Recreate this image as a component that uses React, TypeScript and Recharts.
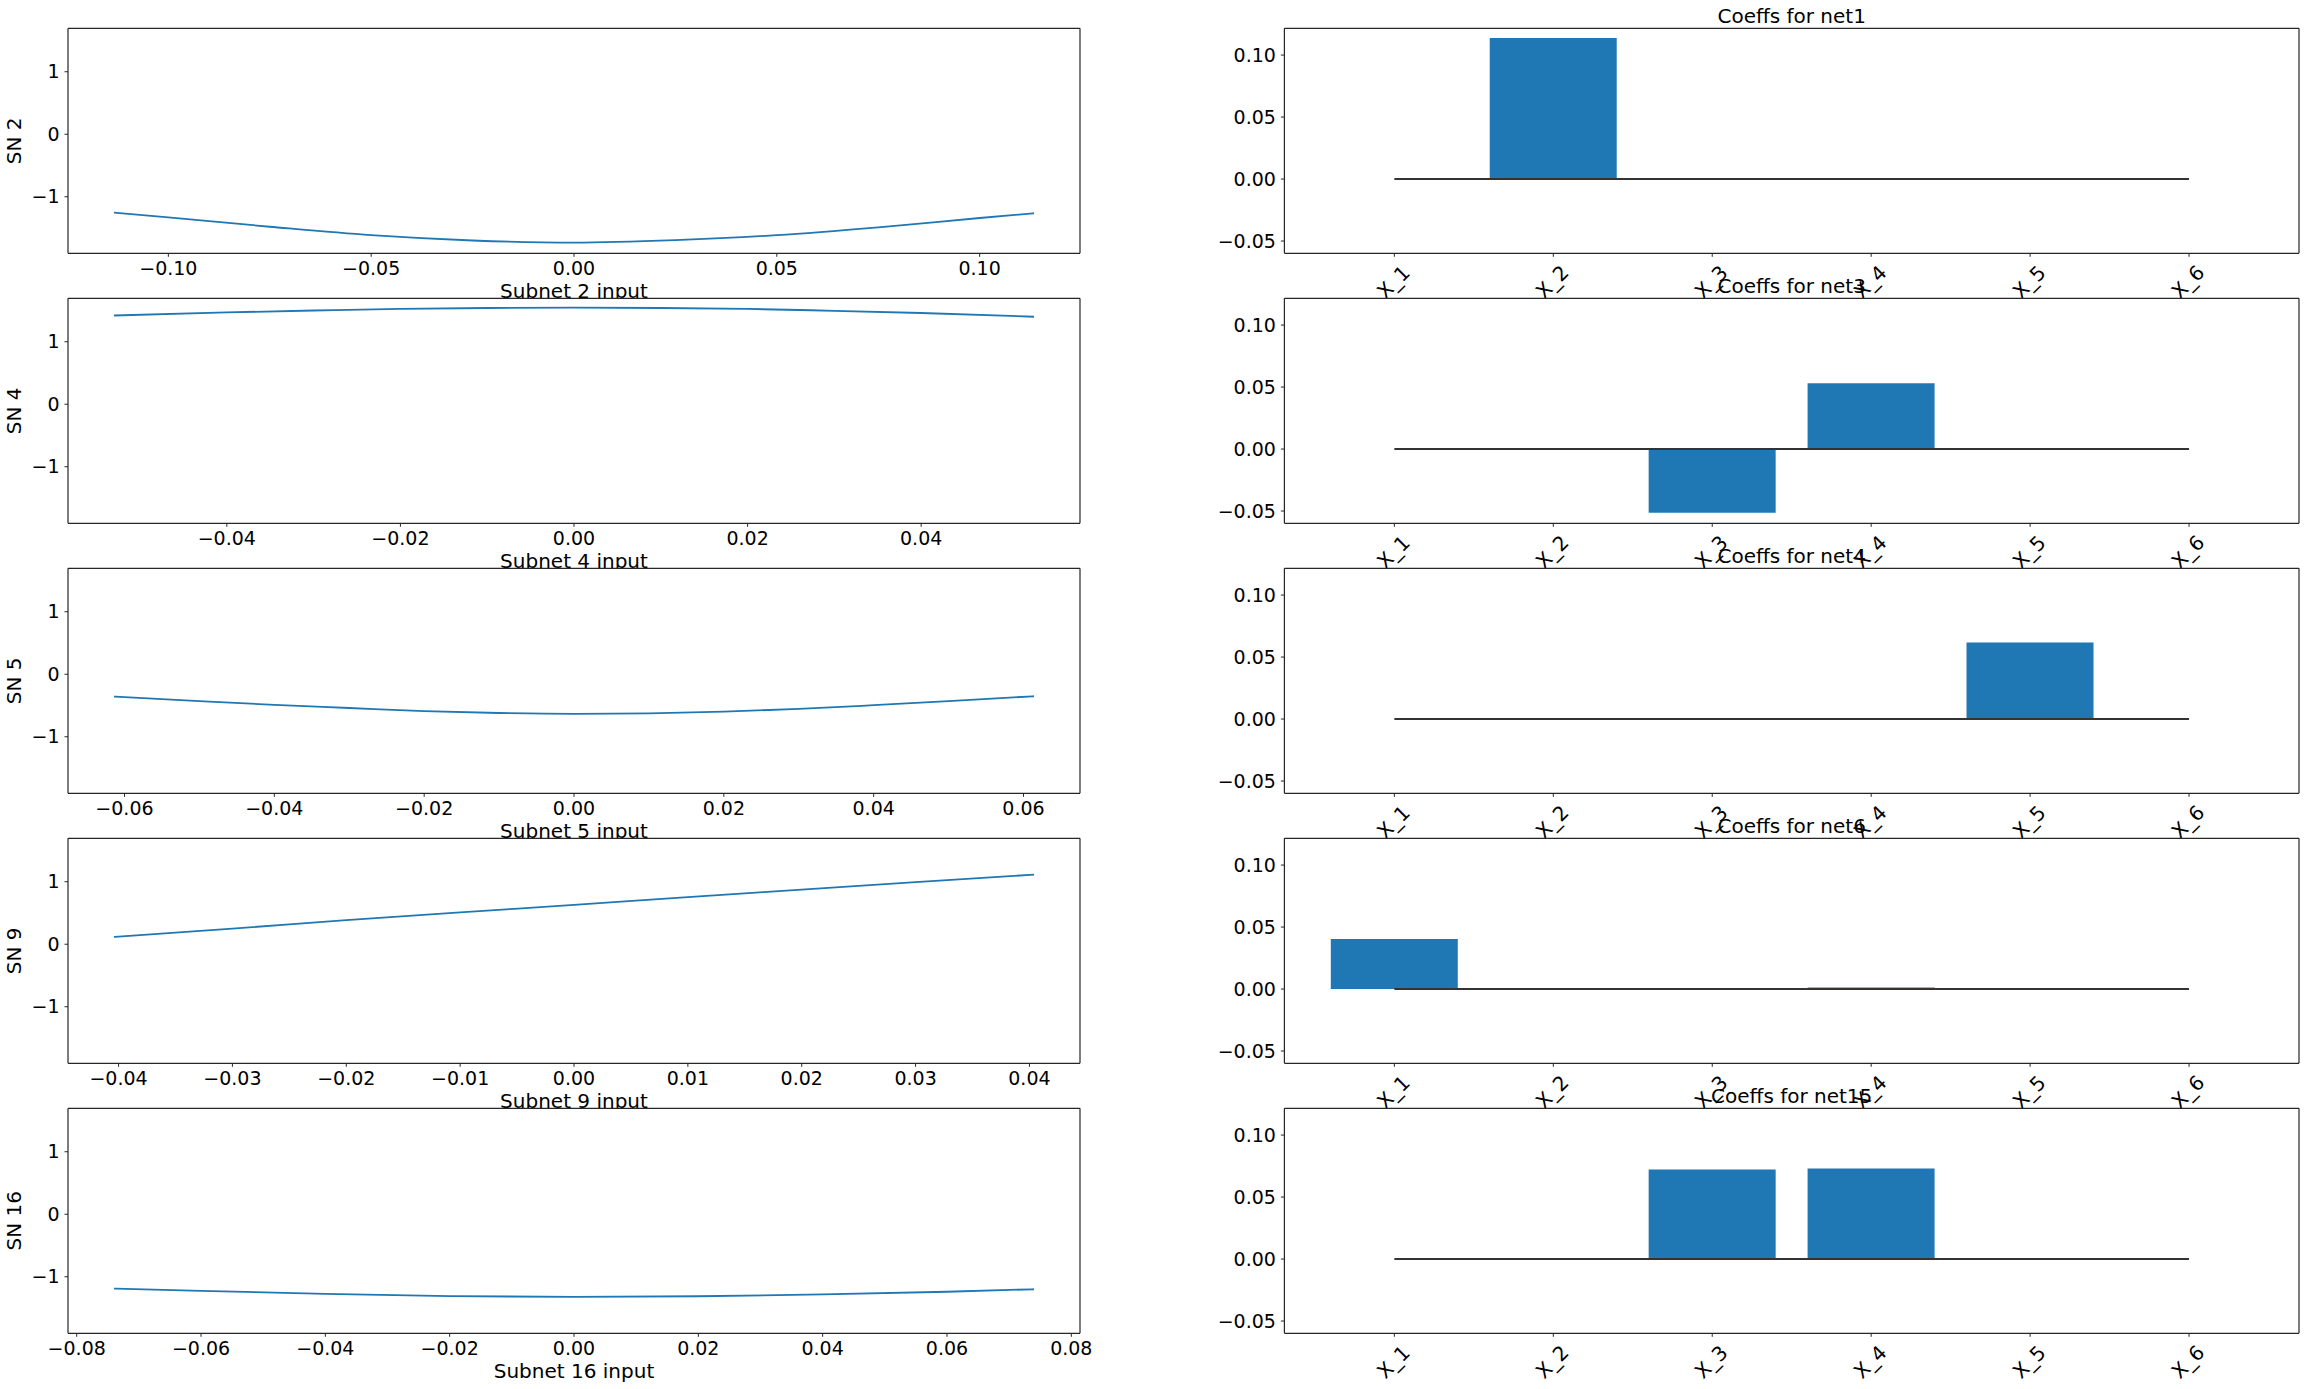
import React from 'react';
import { LineChart, Line, XAxis, YAxis, CartesianGrid, ComposedChart, Bar } from 'recharts';

// ---------- data ----------
const sn2X = [-0.1134, -0.1, -0.075, -0.05, -0.025, 0, 0.025, 0.05, 0.075, 0.1, 0.1134];
const sn2Y = [-1.255, -1.33, -1.48, -1.615, -1.70, -1.734, -1.695, -1.615, -1.49, -1.34, -1.264];

const sn4X = [-0.053, -0.04, -0.03, -0.02, -0.01, 0, 0.01, 0.02, 0.03, 0.04, 0.053];
const sn4Y = [1.42, 1.47, 1.50, 1.525, 1.54, 1.545, 1.54, 1.525, 1.495, 1.46, 1.40];

const sn5X = [-0.0614, -0.05, -0.04, -0.03, -0.02, -0.01, 0, 0.01, 0.02, 0.03, 0.04, 0.05, 0.0614];
const sn5Y = [-0.357, -0.43, -0.49, -0.54, -0.59, -0.62, -0.633, -0.625, -0.598, -0.555, -0.495, -0.43, -0.352];

const sn9X = [-0.0404, -0.03, -0.02, -0.01, 0, 0.01, 0.02, 0.03, 0.0404];
const sn9Y = [0.117, 0.25, 0.385, 0.51, 0.63, 0.755, 0.875, 0.995, 1.114];

const sn16X = [-0.074, -0.06, -0.04, -0.02, 0, 0.02, 0.04, 0.06, 0.074];
const sn16Y = [-1.19, -1.225, -1.275, -1.31, -1.323, -1.312, -1.283, -1.24, -1.2];

const sn2Ticks = [-0.1, -0.05, 0, 0.05, 0.1];
const sn4Ticks = [-0.04, -0.02, 0, 0.02, 0.04];
const sn5Ticks = [-0.06, -0.04, -0.02, 0, 0.02, 0.04, 0.06];
const sn9Ticks = [-0.04, -0.03, -0.02, -0.01, 0, 0.01, 0.02, 0.03, 0.04];
const sn16Ticks = [-0.08, -0.06, -0.04, -0.02, 0, 0.02, 0.04, 0.06, 0.08];

const snYTicks = [-1, 0, 1];
const snYDomain: [number, number] = [-1.905, 1.695];

const coefCategories = ['X_1', 'X_2', 'X_3', 'X_4', 'X_5', 'X_6'];
const net1Coefs = [0, 0.1137, 0, 0, 0, 0];
const net3Coefs = [0, 0, -0.0514, 0.053, 0, 0];
const net4Coefs = [0, 0, 0, 0, 0.0618, 0];
const net6Coefs = [0.0403, 0, 0, 0.0012, 0, 0];
const net15Coefs = [0, 0, 0.0723, 0.0731, 0, 0];
const zeroLine = [0, 0, 0, 0, 0, 0];
const coefYTicks = [-0.05, 0, 0.05, 0.1];
const coefYDomain: [number, number] = [-0.0599, 0.1216];

const leftPanels = [
  { ylabel: 'SN 2', xlabel: 'Subnet 2 input', xs: sn2X, ys: sn2Y, ticks: sn2Ticks },
  { ylabel: 'SN 4', xlabel: 'Subnet 4 input', xs: sn4X, ys: sn4Y, ticks: sn4Ticks },
  { ylabel: 'SN 5', xlabel: 'Subnet 5 input', xs: sn5X, ys: sn5Y, ticks: sn5Ticks },
  { ylabel: 'SN 9', xlabel: 'Subnet 9 input', xs: sn9X, ys: sn9Y, ticks: sn9Ticks },
  { ylabel: 'SN 16', xlabel: 'Subnet 16 input', xs: sn16X, ys: sn16Y, ticks: sn16Ticks },
];

const rightPanels = [
  { title: 'Coeffs for net1', coefs: net1Coefs },
  { title: 'Coeffs for net3', coefs: net3Coefs },
  { title: 'Coeffs for net4', coefs: net4Coefs },
  { title: 'Coeffs for net6', coefs: net6Coefs },
  { title: 'Coeffs for net15', coefs: net15Coefs },
];

// ---------- layout ----------
const FONT = '"DejaVu Sans", sans-serif';
const BLUE = '#1f77b4';
const FRAME = '#262626';
const ROW_PITCH = 270;
const FRAME_TOP = 28.3;
const FRAME_H = 225;
const CHART_H = 300;
const XAXIS_H = 40;
const BOTTOM_M = CHART_H - FRAME_TOP - FRAME_H - XAXIS_H;

const L_W = 1100;
const L_YAXIS_W = 68;
const L_RIGHT_M = 20;
const R_LEFT = 1180;
const R_W = 1129;
const R_YAXIS_W = 104.4;
const R_RIGHT_M = 10;

const fmt = (v: number, d: number) => {
  const s = v.toFixed(d);
  return s.startsWith('-') ? '\u2212' + s.slice(1) : s;
};

const tickStyle = { fontSize: 19, fill: '#000', fontFamily: FONT };

function RotTick(props: any) {
  const { x, y, payload } = props;
  const cy = y + 20;
  const cx = x - 1;
  return (
    <text
      x={cx}
      y={cy}
      textAnchor="middle"
      dominantBaseline="central"
      transform={`rotate(-45 ${cx} ${cy})`}
      fontSize={20}
      fontFamily={FONT}
      fill="#000"
    >
      {payload.value}
    </text>
  );
}

function LeftPanel({ p, row }: { p: typeof leftPanels[0]; row: number }) {
  const data = p.xs.map((x, i) => ({ x, y: p.ys[i] }));
  const xmin = Math.min(...p.xs);
  const xmax = Math.max(...p.xs);
  const pad = (xmax - xmin) * 0.05;
  const plotLeft = L_YAXIS_W;
  const plotRight = L_W - L_RIGHT_M;
  const cy = FRAME_TOP + FRAME_H / 2;
  const yLab = () => (
    <text
      x={21}
      y={cy}
      transform={`rotate(-90 21 ${cy})`}
      textAnchor="middle"
      fontSize={20}
      fontFamily={FONT}
      fill="#000"
    >
      {p.ylabel}
    </text>
  );
  const xLab = () => (
    <text
      x={(plotLeft + plotRight) / 2}
      y={FRAME_TOP + FRAME_H + 44.6}
      textAnchor="middle"
      fontSize={20}
      fontFamily={FONT}
      fill="#000"
    >
      {p.xlabel}
    </text>
  );
  return (
    <div style={{ position: 'absolute', left: 0, top: row * ROW_PITCH, width: L_W, height: CHART_H }}>
      <LineChart
        width={L_W}
        height={CHART_H}
        data={data}
        margin={{ top: FRAME_TOP, right: L_RIGHT_M, bottom: BOTTOM_M, left: 0 }}
      >
        <CartesianGrid
          horizontalPoints={[FRAME_TOP, FRAME_TOP + FRAME_H]}
          verticalPoints={[plotLeft, plotRight]}
          stroke={FRAME}
          strokeWidth={1.2}
          fill="#fff"
          fillOpacity={1}
        />
        <XAxis
          dataKey="x"
          type="number"
          domain={[xmin - pad, xmax + pad]}
          ticks={p.ticks}
          interval={0}
          height={XAXIS_H}
          axisLine={false}
          tickLine={{ stroke: FRAME }}
          tickSize={3.5}
          tickMargin={5}
          tick={tickStyle}
          tickFormatter={(v: number) => fmt(v, 2)}
          allowDataOverflow
          label={xLab}
        />
        <YAxis
          type="number"
          domain={snYDomain}
          ticks={snYTicks}
          interval={0}
          width={L_YAXIS_W}
          axisLine={false}
          tickLine={{ stroke: FRAME }}
          tickSize={3.5}
          tickMargin={5}
          tick={tickStyle}
          tickFormatter={(v: number) => fmt(v, 0)}
          allowDataOverflow
          label={yLab}
        />
        <Line
          dataKey="y"
          type="monotone"
          stroke={BLUE}
          strokeWidth={1.8}
          dot={false}
          isAnimationActive={false}
        />
      </LineChart>
    </div>
  );
}

function RightPanel({ p, row }: { p: typeof rightPanels[0]; row: number }) {
  const data = coefCategories.map((c, i) => ({ name: c, v: p.coefs[i], zero: zeroLine[i] }));
  const plotLeft = R_YAXIS_W;
  const plotRight = R_W - R_RIGHT_M;
  const title = () => (
    <text
      x={(plotLeft + plotRight) / 2}
      y={22.7}
      textAnchor="middle"
      fontSize={20}
      fontFamily={FONT}
      fill="#000"
    >
      {p.title}
    </text>
  );
  return (
    <div style={{ position: 'absolute', left: R_LEFT, top: row * ROW_PITCH, width: R_W, height: CHART_H }}>
      <ComposedChart
        width={R_W}
        height={CHART_H}
        data={data}
        barCategoryGap="10%"
        margin={{ top: FRAME_TOP, right: R_RIGHT_M, bottom: BOTTOM_M, left: 0 }}
      >
        <CartesianGrid
          horizontalPoints={[FRAME_TOP, FRAME_TOP + FRAME_H]}
          verticalPoints={[plotLeft, plotRight]}
          stroke={FRAME}
          strokeWidth={1.2}
          fill="#fff"
          fillOpacity={1}
        />
        <XAxis
          dataKey="name"
          type="category"
          padding={{ left: 30.5, right: 30.5 }}
          interval={0}
          height={XAXIS_H}
          axisLine={false}
          tickLine={{ stroke: FRAME }}
          tickSize={3.5}
          tickMargin={5}
          tick={(tp: any) => <RotTick {...tp} />}
        />
        <YAxis
          type="number"
          domain={coefYDomain}
          ticks={coefYTicks}
          interval={0}
          width={R_YAXIS_W}
          axisLine={false}
          tickLine={{ stroke: FRAME }}
          tickSize={3.5}
          tickMargin={5}
          tick={tickStyle}
          tickFormatter={(v: number) => fmt(v, 2)}
          allowDataOverflow
          label={title}
        />
        <Bar dataKey="v" fill={BLUE} isAnimationActive={false} />
        <Line
          dataKey="zero"
          type="linear"
          stroke="#333"
          strokeWidth={2}
          dot={false}
          isAnimationActive={false}
        />
      </ComposedChart>
    </div>
  );
}

export default function App() {
  const panels: React.ReactNode[] = [];
  for (let i = 0; i < 5; i++) {
    panels.push(<LeftPanel key={'l' + i} p={leftPanels[i]} row={i} />);
    panels.push(<RightPanel key={'r' + i} p={rightPanels[i]} row={i} />);
  }
  return (
    <div
      style={{
        position: 'absolute',
        left: 0,
        top: 0,
        width: 2309,
        height: 1389,
        background: '#fff',
        overflow: 'hidden',
      }}
    >
      <style>{`.recharts-surface{overflow:visible}.recharts-wrapper{overflow:visible}`}</style>
      {panels}
    </div>
  );
}
